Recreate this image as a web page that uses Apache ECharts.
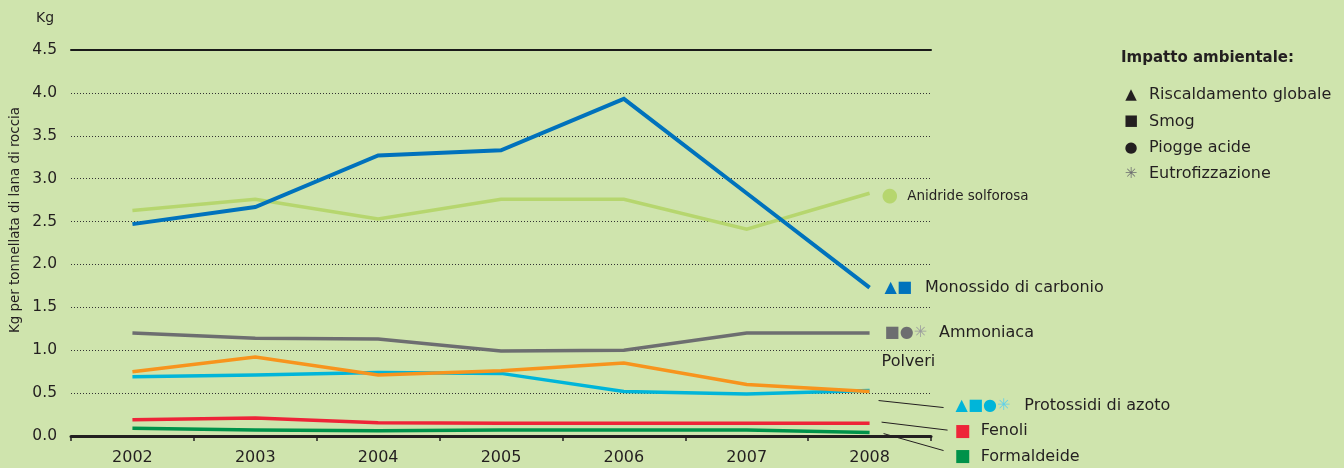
<!DOCTYPE html>
<html>
<head>
<meta charset="utf-8">
<script src="https://cdn.jsdelivr.net/npm/echarts@6/dist/echarts.min.js"></script>
<style>
html,body{margin:0;padding:0;background:#cfe4ad;}
#c{width:1344px;height:468px;}
</style>
</head>
<body>
<div id="c"></div>
<script>
const years = ['2002','2003','2004','2005','2006','2007','2008'];
const yTicks = [0, 4.5, 0.5];
const anidride    = [2.63, 2.76, 2.53, 2.76, 2.76, 2.41, 2.83];
const monossido   = [2.47, 2.67, 3.27, 3.33, 3.93, 2.83, 1.73];
const ammoniaca   = [1.20, 1.14, 1.13, 0.99, 1.00, 1.20, 1.20];
const protossidi  = [0.69, 0.71, 0.74, 0.73, 0.52, 0.49, 0.53];
const polveri     = [0.75, 0.92, 0.71, 0.76, 0.85, 0.60, 0.52];
const fenoli      = [0.19, 0.21, 0.155, 0.15, 0.15, 0.15, 0.15];
const formaldeide = [0.09, 0.07, 0.06, 0.07, 0.07, 0.07, 0.04];
const legendTitle = 'Impatto ambientale:';
const legendItems = [['▲','Riscaldamento globale'],['■','Smog'],['●','Piogge acide'],['✳','Eutrofizzazione']];

const FONT = 'DejaVu Sans';
const TXT = '#231f20';
const chart = echarts.init(document.getElementById('c'));

function mk(name, data, color, width, label, z) {
  return {
    name, type: 'line', data, symbol: 'none', z: z || 2,
    lineStyle: { color, width, cap: 'butt', join: 'miter' },
    itemStyle: { color },
    emphasis: { disabled: true },
    endLabel: label
  };
}
function sym(color, size) { return { color, fontSize: size || 16, fontFamily: FONT }; }
function rich(extra, pad) {
  return Object.assign({
    t: { color: TXT, fontSize: 16, fontFamily: FONT, padding: [0, 0, 0, pad || 0] },
    ts: { color: TXT, fontSize: 13.5, fontFamily: FONT, padding: [0, 0, 0, pad || 0] }
  }, extra);
}

const option = {
  backgroundColor: '#cfe4ad',
  animation: false,
  textStyle: { fontFamily: FONT },
  grid: { left: 71, right: 413, top: 50, bottom: 32 },
  xAxis: [{
    type: 'category', data: years, boundaryGap: true,
    axisLine: { lineStyle: { color: '#231f20', width: 3 } },
    axisTick: { show: true, length: 5, lineStyle: { color: '#231f20', width: 1.5 } },
    axisLabel: { color: TXT, fontSize: 16, fontFamily: FONT, margin: 14 }
  }, {
    type: 'category', data: years, position: 'top', boundaryGap: true,
    axisLine: { lineStyle: { color: '#1a1a1a', width: 2 } },
    axisTick: { show: false }, axisLabel: { show: false }
  }],
  yAxis: {
    type: 'value', min: yTicks[0], max: yTicks[1], interval: yTicks[2],
    axisLine: { show: false }, axisTick: { show: false },
    axisLabel: { color: TXT, fontSize: 15.5, fontFamily: FONT, margin: 14,
      formatter: v => v.toFixed(1) },
    splitLine: { show: true, lineStyle: { color: '#333', type: [1, 2], width: 1 } }
  },
  series: [
    mk('Anidride solforosa', anidride, '#b6d66e', 3.5, {
      show: true, distance: 12, offset: [0, 3],
      formatter: '{s|●}{ts|Anidride solforosa}',
      rich: rich({ s: sym('#b6d66e', 19) }, 9)
    }),
    mk('Monossido di carbonio', monossido, '#0072bc', 4, {
      show: true, distance: 15, offset: [0, 0],
      formatter: '{s|▲■}{t|Monossido di carbonio}',
      rich: rich({ s: sym('#0072bc', 16) }, 13)
    }, 3),
    mk('Ammoniaca', ammoniaca, '#6d6e70', 3.5, {
      show: true, distance: 15, offset: [0, 0],
      formatter: '{s|■●}{a|✳}{t|Ammoniaca}',
      rich: rich({ s: sym('#6d6e70', 16), a: sym('#9a9b9d', 16) }, 12)
    }),
    mk('Protossidi di azoto', protossidi, '#00b5d9', 3.5, {
      show: true, distance: 15, offset: [71, 15],
      formatter: '{s|▲■●}{a|✳}{t|Protossidi di azoto}',
      rich: rich({ s: sym('#00b5d9', 16), a: sym('#5fd0ea', 16) }, 14)
    }),
    mk('Polveri', polveri, '#f7941d', 3.5, {
      show: true, distance: 12, offset: [0, -30],
      formatter: '{t|Polveri}', rich: rich({})
    }, 3),
    mk('Fenoli', fenoli, '#ee2438', 3.5, {
      show: true, distance: 15, offset: [70, 8],
      formatter: '{s|■}{t|Fenoli}',
      rich: rich({ s: sym('#ee2438', 17) }, 10)
    }),
    mk('Formaldeide', formaldeide, '#00924a', 3.5, {
      show: true, distance: 15, offset: [70, 24],
      formatter: '{s|■}{t|Formaldeide}',
      rich: rich({ s: sym('#00924a', 17) }, 10)
    })
  ],
  graphic: []
};
chart.setOption(option);

// leader lines and static texts
const last = years.length - 1;
function pt(si, v) { return chart.convertToPixel({ seriesIndex: si }, [last, v]); }
const leaders = [
  [3, protossidi[last], [9, 10], [74, 17]],
  [5, fenoli[last], [12, -1], [78, 7]],
  [6, formaldeide[last], [14, 1], [74, 18]]
];
const g = [];
leaders.forEach(([si, v, a, b]) => {
  const p = pt(si, v);
  g.push({ type: 'line', silent: true, z: 10,
    shape: { x1: p[0] + a[0], y1: p[1] + a[1], x2: p[0] + b[0], y2: p[1] + b[1] },
    style: { stroke: '#231f20', lineWidth: 1 } });
});
g.push({ type: 'text', x: 36, y: 18, style: { text: 'Kg', fill: TXT, font: '14px "' + FONT + '"', verticalAlign: 'middle' } });
g.push({ type: 'text', x: 16, y: 220, rotation: Math.PI / 2,
  style: { text: 'Kg per tonnellata di lana di roccia', fill: TXT, font: '13.4px "' + FONT + '"',
           align: 'center', verticalAlign: 'middle' } });
g.push({ type: 'text', x: 1121, y: 58, style: { text: legendTitle, fill: TXT,
  font: 'bold 15px "' + FONT + '"', verticalAlign: 'middle' } });
legendItems.forEach(([s, t], i) => {
  const y = 95 + i * 26.4;
  g.push({ type: 'text', x: 1131, y, style: { text: s, fill: s === '✳' ? '#6d6e70' : '#231f20',
    font: '15px "' + FONT + '"', align: 'center', verticalAlign: 'middle' } });
  g.push({ type: 'text', x: 1149, y, style: { text: t, fill: TXT,
    font: '16px "' + FONT + '"', verticalAlign: 'middle' } });
});
chart.setOption({ graphic: g });
</script>
</body>
</html>
